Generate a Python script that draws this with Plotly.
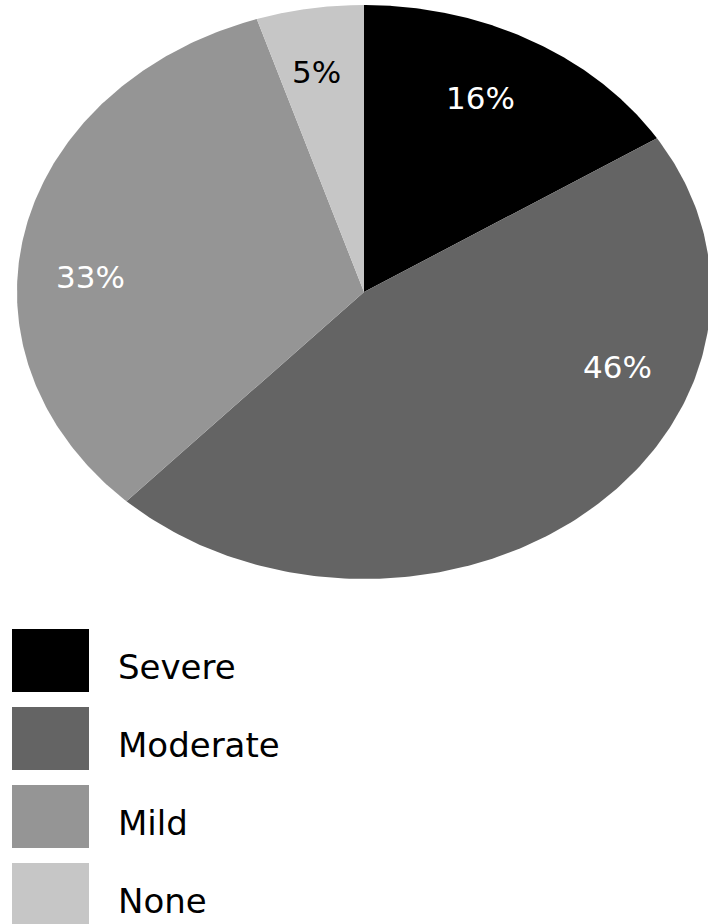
import numpy as np
import plotly.graph_objects as go

# ---- data ----
categories = ["Severe", "Moderate", "Mild", "None"]
values = [16, 46, 33, 5]
labels = ["16%", "46%", "33%", "5%"]

# ---- style / layout ----
colors = ["#000000", "#646464", "#959595", "#c6c6c6"]
label_colors = ["white", "white", "white", "black"]
label_pos = [(480, 98), (617, 367), (90, 277), (316, 72)]  # pixel positions of slice labels
CX, CY, RX, RY = 364, 292, 347, 287
FONT = "DejaVu Sans"
W, H = 708, 924

fig = go.Figure()

total = float(sum(values))
start = 0.0
for cat, v, col in zip(categories, values, colors):
    frac0 = start / total
    frac1 = (start + v) / total
    t = np.linspace(frac0, frac1, 200) * 2 * np.pi
    xs = np.concatenate([[CX], CX + RX * np.sin(t), [CX]])
    ys = np.concatenate([[CY], CY - RY * np.cos(t), [CY]])
    fig.add_trace(go.Scatter(x=xs, y=ys, mode="lines", fill="toself",
                             fillcolor=col, line=dict(width=0, color=col),
                             name=cat, showlegend=False, hoverinfo="name"))
    start += v

for lab, (lx, ly), lc in zip(labels, label_pos, label_colors):
    fig.add_annotation(x=lx, y=ly, xref="x", yref="y", text=lab, showarrow=False,
                       font=dict(family=FONT, size=31, color=lc),
                       xanchor="center", yanchor="middle")

# legend drawn as big swatches
LEG_X0, LEG_X1, LEG_Y0, LEG_H, LEG_STEP, TXT_X = 12, 89, 629, 63, 78, 116
for i, (cat, col) in enumerate(zip(categories, colors)):
    y0 = LEG_Y0 + i * LEG_STEP
    fig.add_shape(type="rect", xref="x", yref="y", x0=LEG_X0, x1=LEG_X1,
                  y0=y0, y1=y0 + LEG_H, fillcolor=col, line=dict(width=0))
    fig.add_annotation(x=TXT_X, y=y0 + LEG_H / 2 + 6, xref="x", yref="y", text=cat,
                       showarrow=False, xanchor="left", yanchor="middle",
                       font=dict(family=FONT, size=34, color="black"))

fig.update_layout(
    width=W, height=H, margin=dict(l=0, r=0, t=0, b=0),
    paper_bgcolor="white", plot_bgcolor="white",
    xaxis=dict(range=[0, W], visible=False, fixedrange=True),
    yaxis=dict(range=[H, 0], visible=False, fixedrange=True),
)

fig.write_html("out.html")
